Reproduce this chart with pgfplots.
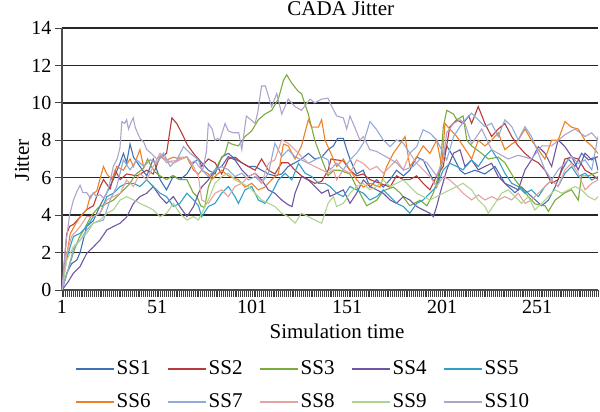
\documentclass[border=0pt]{standalone}
\usepackage{fontspec}
\setmainfont{Liberation Serif}
\usepackage{pgfplots}
\pgfplotsset{compat=1.18}
\definecolor{cA}{HTML}{3F72B5}
\definecolor{cB}{HTML}{B83B3B}
\definecolor{cC}{HTML}{7BAA3D}
\definecolor{cD}{HTML}{7055A0}
\definecolor{cE}{HTML}{31A0C8}
\definecolor{cF}{HTML}{EF8024}
\definecolor{cG}{HTML}{90ABDA}
\definecolor{cH}{HTML}{E2A3A1}
\definecolor{cI}{HTML}{B0D38F}
\definecolor{cJ}{HTML}{AFA3CD}
\newcommand\legbox[1]{\makebox[49.5pt][l]{#1}}
\begin{document}
\begin{tikzpicture}[x=1pt,y=1pt]
\useasboundingbox (0,0) rectangle (600,412);
\begin{axis}[
  at={(62pt,122pt)}, anchor=south west,
  scale only axis, width=536pt, height=262pt,
  xmin=1, xmax=283, ymin=0, ymax=14,
  axis x line*=bottom, axis y line*=left,
  axis line style={draw=black!70, line width=1.3pt},
  xtick={1,51,101,151,201,251},
  minor xtick={1,2,...,283},
  ytick={0,2,...,14},
  tick align=outside,
  major tick length=7pt, minor tick length=7pt,
  every tick/.style={black!75, line width=0.9pt},
  ymajorgrids, major grid style={black!85, line width=1.3pt},
  tick label style={font=\fontsize{20}{24}\selectfont},
  /pgf/number format/assume math mode=true,
  title={CADA Jitter},
  title style={at={(axis description cs:0.52,1)}, anchor=base, yshift=6pt, font=\fontsize{21}{25}\selectfont},
  xlabel={Simulation time},
  xlabel style={at={(axis description cs:0.513,0)}, anchor=base, yshift=-49pt, font=\fontsize{21}{25}\selectfont},
  ylabel={Jitter},
  ylabel style={at={(axis description cs:-0.0746,0.496)}, anchor=center, font=\fontsize{21}{25}\selectfont},
  no markers,
  every axis plot/.append style={line width=1.1pt},
  legend columns=5,
  legend cell align=left,
  legend image code/.code={\draw[#1, line width=1.5pt] (0pt,0pt) -- (38pt,0pt);},
  legend style={at={(axis description cs:0.0252,-0.2577)}, anchor=north west,
    draw=none, fill=none, inner sep=0pt, row sep=10pt,
    font=\fontsize{21}{25}\selectfont,
    nodes={inner sep=1.5pt, text height=15pt, text depth=5pt}},
]
% SS1
\addplot[cA] coordinates {(1,0) (3.5,0.9) (6,1.4) (8.8,1.6) (10.5,2.0) (14,3.4) (17.5,3.7) (21,4.5) (24.6,5.2) (28,5.9) (31.6,6.8) (33.3,7.3) (35,6.8) (36.8,7.8) (38.6,7.1) (42,6.6) (45.6,6.1) (49,7.0) (52.6,5.9) (56,5.35) (59.6,6.1) (63,5.9) (66.7,6.2) (70.2,6.8) (72.8,7.0) (74.5,6.8) (78,6.4) (81.5,6.2) (85,7.1) (88.5,7.3) (92,7.0) (95.6,6.8) (99,6.6) (102.6,6.6) (106,6.4) (109.6,6.2) (113,6.1) (116.6,6.2) (120,6.6) (123.6,6.8) (127,7.0) (130.6,7.3) (134,7.0) (137.6,7.1) (141,7.5) (143.8,7.7) (146,8.1) (149,8.1) (150.8,7.5) (152.5,7.0) (156,6.2) (159.5,6.4) (163,5.5) (166.6,5.9) (170,5.5) (173.6,5.9) (177,6.4) (180.6,6.1) (184,6.4) (187.6,7.1) (191,6.95) (194.6,6.2) (198.1,5.5) (201.6,7.1) (203.4,7.7) (207,7.1) (210.4,6.4) (213,6.2) (218.3,6.4) (223.5,6.2) (228.8,6.6) (234,5.7) (239.3,5.2) (242.8,5.5) (248,5.0) (253.4,4.5) (256.9,4.8) (260.4,5.5) (264,6.4) (267.4,7.0) (270.9,6.6) (274.4,7.3) (278,6.95) (281.4,7.1) (283,6.4)};
\addlegendentry{\legbox{SS1}}
% SS2
\addplot[cB] coordinates {(1,0) (3.5,3.0) (5,3.4) (7,3.5) (10.5,3.9) (14,4.3) (17.5,4.5) (21,5.5) (22.8,5.9) (26.3,5.4) (29,6.4) (31.6,5.9) (35,6.2) (40.4,6.1) (45.6,6.4) (49,6.2) (52.6,7.1) (56,7.3) (58.8,9.2) (61.4,8.9) (64.9,8.2) (66.7,7.8) (70.2,7.3) (72.8,7.0) (74.5,6.6) (78,7.0) (81.5,6.8) (85,6.2) (88.5,7.0) (92,7.1) (95.6,6.8) (99,6.6) (102.6,6.4) (106,7.0) (109.6,6.4) (113,6.2) (116.6,6.8) (120,6.8) (123.6,6.4) (127,6.1) (130.6,5.9) (134,5.7) (137.6,5.8) (141,6.4) (142.5,7.0) (145.5,6.95) (149,6.9) (152.5,6.4) (156,6.1) (159.5,6.2) (163,5.9) (168.3,5.7) (173.6,5.5) (177,6.1) (180.6,5.9) (184,5.9) (187.6,6.1) (191,5.7) (194.6,5.35) (198.1,6.1) (201.6,6.6) (205,8.7) (208.7,9.1) (212,8.9) (215,9.3) (216.5,8.9) (220,9.8) (223.5,8.9) (227,8.2) (230.5,8.6) (234,8.9) (237.6,8.2) (241,7.7) (244.6,7.3) (248,7.0) (251.6,6.8) (255.1,6.4) (258.6,5.7) (262,5.9) (265.6,7.0) (269.1,7.1) (272.6,7.0) (276.2,6.4) (279.7,6.2) (283,5.9)};
\addlegendentry{\legbox{SS2}}
% SS3
\addplot[cC] coordinates {(1,0) (4,1.0) (7,2.0) (10,2.8) (13,3.3) (16,3.9) (20,4.4) (24,4.6) (28,4.8) (32,5.2) (36,5.6) (40,6.2) (43.9,6.5) (46,7.0) (48,6.6) (50,6.3) (52.6,6.1) (56,5.9) (59,6.1) (63,5.9) (66.7,5.9) (70,5.2) (72,5.0) (74,4.5) (76,4.4) (78,5.5) (81.5,6.4) (84,6.9) (86.8,7.3) (88.5,7.9) (90.3,7.8) (93.8,7.7) (97.3,8.2) (100.8,8.5) (104.3,9.1) (107.8,9.4) (111.3,9.6) (114.8,10.2) (117.5,11.2) (119.2,11.5) (121.9,11.05) (125.4,10.6) (127,10.5) (130.6,9.4) (134,8.0) (137.6,7.0) (141,6.1) (144,6.4) (147,6.4) (152.5,6.2) (156,5.5) (161.3,4.5) (166.6,4.8) (170,5.3) (175.3,5.5) (178.8,5.2) (184,4.5) (189.4,4.8) (193,4.5) (196.4,5.2) (199.9,6.4) (201.6,8.7) (203.4,9.6) (207,9.4) (208.7,9.1) (212,9.3) (214,8.0) (216.5,7.7) (221.8,7.3) (225.3,7.0) (230.5,7.1) (234,6.8) (239.3,5.9) (244.6,5.2) (249.8,4.6) (255.1,4.5) (256.9,4.2) (260.4,4.8) (265.6,5.2) (269.1,5.35) (272.6,4.8) (274.4,6.1) (277.9,6.1) (283,6.3)};
\addlegendentry{\legbox{SS3}}
% SS4
\addplot[cD] coordinates {(1,0) (4,0.4) (7,0.9) (10.5,1.25) (14,1.96) (17.5,2.3) (21,2.67) (24.6,3.21) (28,3.39) (31.6,3.57) (35,3.9) (38.6,4.63) (42,4.99) (45.6,5.17) (49,5.53) (52.6,4.99) (56,4.63) (59.6,4.99) (63,4.46) (66.7,3.92) (70.2,4.46) (72.8,5.17) (74.5,5.5) (78,5.88) (81.5,6.42) (85,6.6) (88.5,7.13) (92,6.95) (95.6,6.42) (99,6.06) (102.6,6.24) (106,5.88) (109.6,5.35) (113,5.17) (116.6,4.81) (120,4.55) (122,4.46) (123.6,5.17) (127,6.06) (130.6,5.88) (134,5.53) (137.6,5.17) (141,5.35) (142,5.0) (145.5,5.17) (149,5.35) (152.5,4.63) (156,5.17) (159.5,5.88) (163,5.53) (166.6,5.35) (170,5.17) (173.6,4.81) (177,4.63) (180.6,4.99) (184,4.81) (187.6,4.46) (191,4.28) (194.6,4.10) (196.4,3.92) (198.1,4.46) (199.9,5.17) (203.4,6.42) (207,7.31) (210.4,7.49) (213,6.6) (216.5,6.95) (220,6.42) (223.5,6.6) (227,6.77) (230.5,6.06) (234,5.7) (237.6,5.53) (241,5.35) (244.6,6.42) (248,6.95) (251.6,7.66) (255.1,7.31) (258.6,6.6) (262,8.02) (265.6,7.66) (269.1,7.13) (272.6,6.42) (276.2,7.31) (279.7,6.95) (283,7.13)};
\addlegendentry{\legbox{SS4}}
% SS5
\addplot[cE] coordinates {(1,0) (3,1.5) (5.3,2.32) (7,2.85) (10.5,3.03) (14,3.39) (17.5,3.92) (21,4.10) (24.6,4.99) (28,5.17) (31.6,5.53) (35,5.7) (38.6,5.7) (42,5.53) (45.6,5.88) (49,5.53) (52.6,5.17) (56,4.99) (59.6,4.46) (63,4.63) (66.7,5.17) (70.2,4.81) (72.8,4.5) (74.5,3.92) (78,4.46) (81.5,4.63) (85,5.17) (88.5,5.53) (92,4.99) (93.8,4.63) (97.3,5.35) (100.8,5.53) (104.3,4.81) (107.8,4.63) (111.3,5.17) (114.8,5.88) (118.4,6.24) (121.9,5.88) (125.4,6.77) (128.9,6.24) (132.4,6.06) (135.9,5.7) (139.4,5.7) (142,5.53) (145.5,5.17) (149,4.99) (152.5,5.53) (156,5.35) (159.5,5.17) (163,4.81) (166.6,4.99) (170,5.35) (173.6,4.99) (177,4.63) (180.6,4.46) (184,4.10) (187.6,4.63) (191,4.81) (194.6,5.17) (198.1,5.53) (201.6,6.42) (205,6.77) (208.7,6.6) (212,6.42) (216.5,6.95) (220,6.6) (223.5,7.13) (227,7.49) (230.5,6.95) (234,6.24) (237.6,5.7) (241,5.53) (244.6,5.17) (248,5.35) (251.6,4.99) (255.1,5.53) (258.6,5.88) (262,5.53) (265.6,6.24) (269.1,6.6) (272.6,6.06) (276.2,6.24) (279.7,5.88) (283,6.06)};
\addlegendentry{\legbox{SS5}}
% SS6
\addplot[cF] coordinates {(1,0) (3,1.5) (5.3,3.0) (8,3.5) (10.5,3.9) (14,4.3) (15.8,5.0) (19.3,5.3) (22.8,6.6) (24.6,6.2) (27.2,5.9) (29.8,6.6) (33.3,6.4) (36.8,7.0) (38.6,6.6) (42,7.5) (43.9,6.6) (47.4,6.95) (50.9,6.8) (52.6,7.1) (56.1,6.95) (59.6,7.1) (63.2,7.0) (66.7,7.1) (70.2,6.4) (72.8,6.2) (74.5,6.4) (78,6.2) (79.8,5.9) (85,6.4) (88.5,6.1) (93.8,5.9) (97.3,5.5) (100.8,5.7) (104.3,5.35) (107.8,5.5) (111.3,5.9) (114.8,6.2) (117.5,7.8) (120,7.7) (123.6,7.0) (127,7.7) (130.6,9.1) (132.4,8.7) (135.9,8.7) (137.6,9.1) (139.4,8.0) (142.5,7.3) (145.5,6.6) (149,7.0) (152.5,6.4) (156,5.9) (159.5,5.5) (163,5.7) (168.3,5.5) (171.8,6.6) (175.3,7.3) (178.8,7.8) (181.5,8.2) (184,6.6) (187.6,7.1) (191,7.7) (194.6,7.3) (198.1,8.0) (200.8,6.6) (202.5,8.9) (205,8.6) (208.7,8.2) (212,7.7) (216.5,7.0) (220,8.0) (223.5,7.7) (227,8.0) (230.5,8.4) (234,7.5) (237.6,7.8) (241,8.0) (244.6,8.6) (248,8.0) (251.6,7.5) (255.1,7.0) (258.6,8.0) (262,8.0) (265.6,9.0) (269.1,8.7) (272.6,8.6) (276.2,8.0) (279.7,7.7) (283,7.3)};
\addlegendentry{\legbox{SS6}}
% SS7
\addplot[cG] coordinates {(1,0) (4,1.0) (7,2.2) (10.5,2.67) (14,3.2) (17.5,3.57) (22.8,3.74) (26.3,4.81) (29.8,5.53) (33.3,6.95) (36.8,6.42) (40.4,6.95) (43.9,6.6) (47.4,6.95) (50.9,6.77) (54.4,7.31) (57.9,6.6) (61.4,6.95) (64.9,7.66) (68.4,7.31) (72.8,6.95) (74.5,6.42) (78,6.06) (81.5,6.42) (85,6.6) (88.5,6.42) (92,6.06) (95.6,6.24) (99,5.88) (102.6,6.06) (106,5.7) (109.6,6.24) (113,7.84) (116.6,7.13) (120,7.49) (123.6,7.13) (127,6.95) (130.6,6.77) (134,6.95) (137.6,7.13) (141,6.95) (142,6.42) (145.5,6.77) (149,6.42) (152.5,6.95) (156,7.31) (159.5,7.84) (163,9.0) (166.6,8.56) (170,8.02) (173.6,7.66) (177,8.02) (180.6,7.84) (184,7.31) (187.6,7.66) (191,8.56) (194.6,8.38) (198.1,8.02) (201.6,7.31) (203.4,6.95) (207,8.2) (210.4,8.73) (213,9.09) (216.5,9.45) (220,9.09) (223.5,8.73) (227,8.91) (230.5,8.2) (234,9.09) (237.6,8.73) (241,8.02) (244.6,8.73) (248,8.2) (251.6,7.31) (255.1,6.42) (258.6,5.88) (262,6.42) (265.6,6.77) (269.1,7.13) (272.6,6.77) (276.2,6.95) (279.7,6.42) (283,8.2)};
\addlegendentry{\legbox{SS7}}
% SS8
\addplot[cH] coordinates {(1,0) (3.5,1.96) (6,2.85) (10.5,3.39) (14,3.92) (17.5,3.92) (21,4.10) (24.6,4.81) (28,4.99) (31.6,5.17) (35,5.88) (38.6,5.53) (42,6.24) (45.6,5.88) (49,6.6) (52.6,7.31) (56,6.95) (59.6,6.77) (63,6.95) (66.7,7.13) (70.2,6.6) (72.8,6.06) (74.5,4.81) (78,4.63) (81.5,5.17) (85,5.35) (88.5,4.99) (92,5.53) (95.6,5.7) (99,6.06) (102.6,6.24) (106,5.7) (109.6,6.77) (113,6.95) (116.6,8.02) (120,7.84) (123.6,7.49) (127,7.13) (130.6,6.77) (134,6.6) (137.6,6.42) (141,6.24) (143.8,6.42) (145.5,5.88) (149,6.42) (152.5,6.24) (156,6.95) (159.5,6.77) (163,6.42) (166.6,6.6) (170,6.24) (173.6,6.6) (177,6.95) (180.6,6.42) (184,7.31) (187.6,6.77) (191,6.42) (194.6,6.06) (198.1,5.53) (201.6,6.06) (205,5.88) (208.7,5.53) (212,5.17) (216.5,4.81) (220,5.08) (223.5,4.81) (227,4.99) (230.5,4.81) (234,4.99) (237.6,4.81) (241,5.17) (244.6,4.63) (248,4.81) (251.6,5.17) (255.1,5.53) (258.6,5.88) (262,5.53) (265.6,6.42) (269.1,6.77) (272.6,6.24) (276.2,5.35) (279.7,5.7) (283,5.88)};
\addlegendentry{\legbox{SS8}}
% SS9
\addplot[cI] coordinates {(1,0) (3.5,1.6) (7,2.32) (10.5,2.67) (14,3.03) (17.5,3.57) (21,3.74) (24.6,4.10) (28,4.28) (31.6,4.81) (35,4.99) (38.6,4.81) (42,4.63) (45.6,4.46) (49,4.28) (52.6,3.92) (56,4.10) (59.6,4.63) (63,4.10) (66.7,3.74) (70.2,3.92) (72.8,3.74) (74.5,4.10) (78,4.81) (81.5,5.7) (85,6.06) (88.5,6.24) (92,5.88) (95.6,5.7) (99,5.53) (102.6,5.17) (106,4.81) (109.6,4.63) (113,4.46) (116.6,4.10) (120,3.92) (123.6,3.57) (127,4.10) (130.6,3.92) (134,3.74) (137.6,3.57) (141,4.63) (143.8,4.99) (145.5,4.46) (149,4.63) (152.5,5.17) (156,5.53) (159.5,5.7) (163,5.35) (166.6,5.53) (170,5.88) (173.6,5.53) (177,5.7) (180.6,5.88) (184,5.53) (187.6,5.17) (191,4.99) (194.6,4.81) (198.1,4.99) (201.6,5.17) (205,5.35) (208.7,5.53) (212,5.7) (216.5,5.35) (220,4.81) (223.5,4.46) (225.3,4.10) (228.8,4.63) (232.3,5.17) (235.8,5.35) (239.3,4.99) (242.8,4.63) (246.3,4.99) (249.8,4.28) (253.4,4.63) (256.9,4.99) (260.4,5.35) (264,5.17) (267.4,5.35) (270.9,5.53) (274.4,5.35) (277.9,4.99) (281.4,4.81) (283,4.99)};
\addlegendentry{\legbox{SS9}}
% SS10
\addplot[cJ] coordinates {(1,0) (3,2.5) (5,4.0) (7,4.8) (9,5.3) (10.5,5.6) (12,5.2) (14,5.2) (16,4.9) (17.5,5.2) (19,5.0) (21,5.1) (23,4.9) (25,5.3) (26.3,5.8) (28,6.6) (30,7.0) (31.5,7.6) (32.5,9.0) (34,8.9) (35,9.1) (36,8.6) (37.5,9.0) (38.5,9.2) (39.5,8.7) (42,8.1) (44,7.9) (45.6,7.5) (48,7.3) (50.9,7.0) (53,7.2) (56,6.8) (59,6.9) (61.4,6.9) (63,7.1) (66.7,7.1) (69,6.8) (71,6.9) (73,6.6) (75,6.4) (77,7.4) (78,8.9) (80,8.6) (81.5,8.0) (83,8.1) (84,8.0) (86.8,8.9) (88.5,8.5) (91,8.4) (94,8.4) (95.6,7.5) (98,9.3) (102.6,8.9) (104,9.5) (106,10.9) (108,10.9) (111.3,9.8) (114,10.5) (116.6,9.4) (120,10.2) (123.6,9.8) (127,9.6) (131.5,10.2) (134,10.0) (137.6,10.2) (141,10.25) (142,10.0) (145.5,9.3) (149,9.2) (150.8,8.6) (152.5,9.3) (155,8.7) (157.8,8.0) (159.5,8.2) (163,7.5) (166.6,7.4) (171.8,7.1) (177,6.8) (180.6,6.4) (185.8,6.6) (189.4,7.0) (193,6.8) (198.1,6.1) (201.6,7.0) (203.4,8.4) (207,8.9) (210.4,9.1) (213,8.9) (216.5,7.8) (221.8,8.6) (227,7.5) (230.5,7.3) (235.8,7.0) (241,7.2) (248,7.0) (253.4,7.7) (258.6,7.7) (265.6,8.3) (270.9,8.6) (276.2,8.2) (279.7,8.4) (283,8.0)};
\addlegendentry{\legbox{SS10}}
\end{axis}
\end{tikzpicture}
\end{document}
